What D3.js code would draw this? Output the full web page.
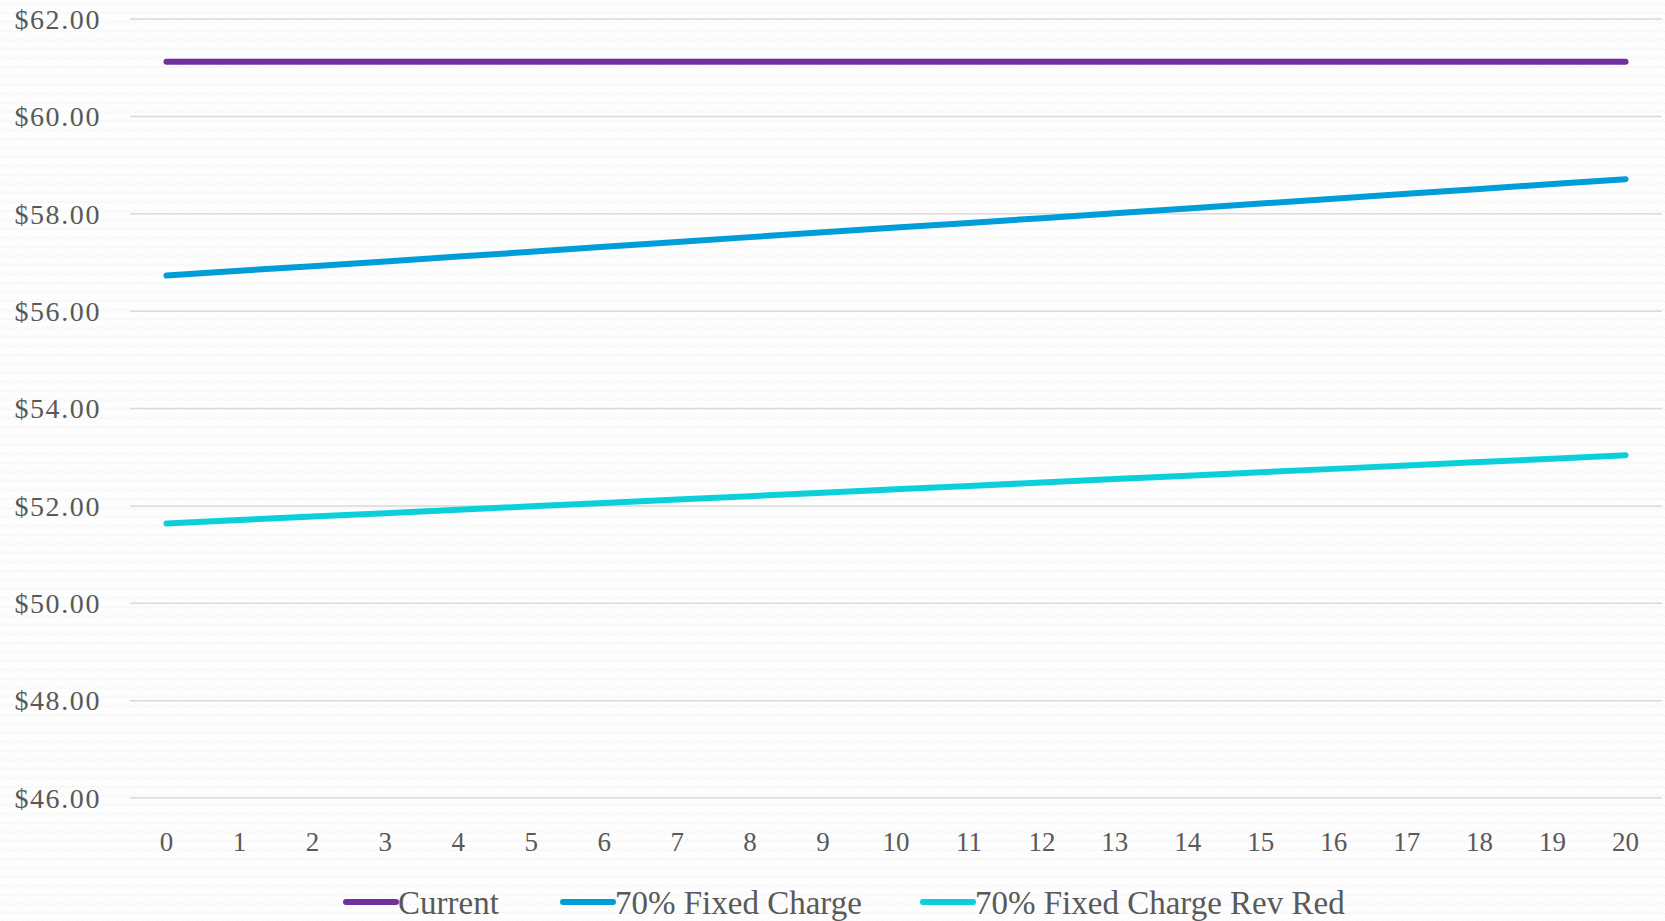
<!DOCTYPE html>
<html><head><meta charset="utf-8">
<script src="https://cdn.jsdelivr.net/npm/d3@7"></script>
<style>html,body{margin:0;padding:0;background:#fafafa;}svg{display:block;}</style>
</head><body>
<script>
const years = d3.range(0, 21).map(String);
const current = Array(21).fill(61.12);
const fixed70 = [56.73,56.83,56.92,57.02,57.12,57.22,57.32,57.42,57.52,57.62,57.72,57.81,57.91,58.01,58.11,58.21,58.31,58.41,58.51,58.61,58.71];
const fixed70RevRed = [51.64,51.71,51.78,51.85,51.92,51.99,52.06,52.13,52.20,52.27,52.34,52.41,52.48,52.55,52.62,52.69,52.76,52.83,52.90,52.97,53.04];
const seriesNames = ["Current","70% Fixed Charge","70% Fixed Charge Rev Red"];
const seriesColors = ["#7030A0","#009DD9","#0BD0D9"];
const yTicks = [46,48,50,52,54,56,58,60,62];

const W = 1665, H = 921;
const svg = d3.select("body").append("svg").attr("width", W).attr("height", H);
const defs = svg.append("defs");
const pat = defs.append("pattern").attr("id","zz").attr("width",10).attr("height",9).attr("patternUnits","userSpaceOnUse");
pat.append("rect").attr("width",10).attr("height",9).attr("fill","#fdfdfd");
pat.append("path").attr("d","M0,5 L2.5,3 L5,5 L7.5,3 L10,5").attr("fill","none").attr("stroke","#f3f3f3").attr("stroke-width",1);
svg.append("rect").attr("width",W).attr("height",H).attr("fill","url(#zz)");

const x = d3.scalePoint().domain(years).range([130, 1662]).padding(0.5);
const y = d3.scaleLinear().domain([46, 62]).range([798, 19]);

const font = "'Liberation Serif', serif";
// grid
svg.append("g").selectAll("line").data(yTicks).join("line")
  .attr("x1",130).attr("x2",1662).attr("y1",d=>y(d)).attr("y2",d=>y(d))
  .attr("stroke","#d9d9d9").attr("stroke-width",1.5);
// y labels
svg.append("g").selectAll("text").data(yTicks).join("text")
  .attr("x",101).attr("y",d=>y(d)).attr("dy","0.35em").attr("text-anchor","end")
  .attr("font-family",font).attr("font-size",28).attr("letter-spacing",1.6).attr("fill","#595959")
  .text(d=>"$"+d3.format(".2f")(d));
// x labels
svg.append("g").selectAll("text").data(years).join("text")
  .attr("x",d=>x(d)).attr("y",851).attr("text-anchor","middle")
  .attr("font-family",font).attr("font-size",27).attr("fill","#595959")
  .text(d=>d);

const data = [current, fixed70, fixed70RevRed];
const line = d3.line().x((d,i)=>x(years[i])).y(d=>y(d));
svg.append("g").selectAll("path").data(data).join("path")
  .attr("d", line).attr("fill","none")
  .attr("stroke",(d,i)=>seriesColors[i]).attr("stroke-width",6).attr("stroke-linecap","round");

// legend
const legX = [344, 561, 921];
const lg = svg.append("g").selectAll("g").data(seriesNames).join("g")
  .attr("transform",(d,i)=>`translate(${legX[i]},902)`);
lg.append("line").attr("x1",2).attr("x2",52).attr("y1",0).attr("y2",0)
  .attr("stroke",(d,i)=>seriesColors[i]).attr("stroke-width",6).attr("stroke-linecap","round");
lg.append("text").attr("x",54).attr("y",0).attr("dy","0.35em")
  .attr("font-family",font).attr("font-size",33).attr("fill","#595959").text(d=>d);
</script>
</body></html>
